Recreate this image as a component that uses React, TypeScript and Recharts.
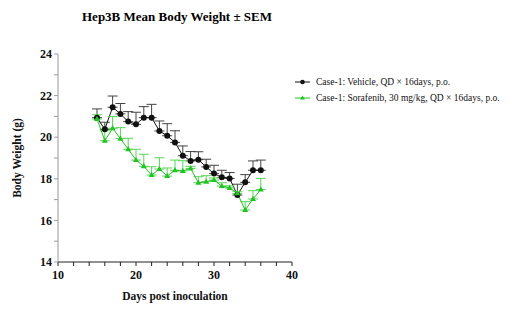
import React from "react";
import { ErrorBar, Line, LineChart, XAxis, YAxis } from "recharts";

// days post inoculation
const DAYS = [15, 16, 17, 18, 19, 20, 21, 22, 23, 24, 25, 26, 27, 28, 29, 30, 31, 32, 33, 34, 35, 36];

// Case-1: Vehicle
const VEHICLE = [20.94, 20.38, 21.44, 21.12, 20.75, 20.62, 20.94, 20.94, 20.3, 20.07, 19.75, 19.11, 18.86, 18.92, 18.57, 18.25, 18.07, 18.02, 17.22, 17.83, 18.41, 18.41];
const VEHICLE_SEM = [0.42, 0.34, 0.54, 0.5, 0.48, 0.58, 0.53, 0.64, 0.48, 0.58, 0.56, 0.47, 0.45, 0.38, 0.37, 0.4, 0.34, 0.28, 0.52, 0.37, 0.45, 0.49];

// Case-1: Sorafenib
const SORAFENIB = [20.88, 19.83, 20.43, 19.93, 19.42, 18.9, 18.6, 18.18, 18.47, 18.13, 18.41, 18.38, 18.5, 17.81, 17.86, 17.94, 17.65, 17.56, 17.3, 16.5, 17.03, 17.49];
const SORAFENIB_SEM = [0.2, 0.48, 0.56, 0.53, 0.53, 0.52, 0.58, 0.4, 0.54, 0.39, 0.49, 0.49, 0.1, 0.29, 0.29, 0.1, 0.16, 0.1, 0.1, 0.4, 0.4, 0.53];

const X_TICKS = [10, 12, 14, 16, 18, 20, 22, 24, 26, 28, 30, 32, 34, 36, 38, 40];
const X_LABELS = [10, 20, 30, 40];
const Y_TICKS = [14, 15, 16, 17, 18, 19, 20, 21, 22, 23, 24];
const Y_LABELS = [14, 16, 18, 20, 22, 24];

const SERIES = [
  { key: "vehicle", name: "Case-1: Vehicle, QD × 16days, p.o.", color: "#111111", errColor: "#444444", shape: "circle" },
  { key: "sorafenib", name: "Case-1: Sorafenib, 30 mg/kg, QD × 16days, p.o.", color: "#22c322", errColor: "#55d655", shape: "triangle" },
];

const data = DAYS.map((d, i) => ({
  day: d,
  vehicle: VEHICLE[i],
  vehicleErr: [0, VEHICLE_SEM[i]],
  sorafenib: SORAFENIB[i],
  sorafenibErr: [0, SORAFENIB_SEM[i]],
}));

const FONT = '"Liberation Serif", "Times New Roman", serif';

const Triangle = (props: any) => {
  const { cx, cy, fill } = props;
  if (cx == null || cy == null) return null;
  return <polygon points={`${cx},${cy - 3.2} ${cx - 3},${cy + 2} ${cx + 3},${cy + 2}`} fill={fill} />;
};

const Circle = (props: any) => {
  const { cx, cy, fill } = props;
  if (cx == null || cy == null) return null;
  return <circle cx={cx} cy={cy} r={3} fill={fill} />;
};

const LegendBox = () => (
  <div
    style={{
      position: "absolute",
      left: 293,
      top: 74,
      fontFamily: FONT,
      fontSize: 9.5,
      color: "#111",
      lineHeight: "16px",
    }}
  >
    {SERIES.map((s) => (
      <div key={s.key} style={{ display: "flex", alignItems: "center", whiteSpace: "nowrap" }}>
        <svg width={23} height={10}>
          <line x1={2} y1={5} x2={17} y2={5} stroke={s.color} strokeWidth={1} />
          {s.shape === "circle" ? (
            <circle cx={9.5} cy={5} r={2.3} fill={s.color} />
          ) : (
            <polygon points="9.5,2.4 7,6.6 12,6.6" fill={s.color} />
          )}
        </svg>
        <span>{s.name}</span>
      </div>
    ))}
  </div>
);

export default function App() {
  return (
    <div style={{ position: "absolute", left: 0, top: 0, width: 512, height: 327, background: "#fff" }}>
      <div
        style={{
          position: "absolute",
          left: 0,
          width: 354,
          top: 9,
          textAlign: "center",
          fontFamily: FONT,
          fontWeight: "bold",
          fontSize: 13,
        }}
      >
        Hep3B Mean Body Weight ± SEM
      </div>
      <LineChart width={512} height={327} data={data} margin={{ top: 54, right: 220, bottom: 35, left: 0 }}>
        <XAxis
          dataKey="day"
          type="number"
          domain={[10, 40]}
          ticks={X_TICKS}
          interval={0}
          tickFormatter={(v: number) => (X_LABELS.includes(v) ? String(v) : "")}
          tickSize={4}
          tickMargin={4}
          height={30}
          stroke="#222"
          tick={{ fill: "#111", fontFamily: FONT, fontWeight: "bold", fontSize: 12 }}
          label={{
            value: "Days post inoculation",
            position: "bottom",
            offset: 0,
            style: { fontFamily: FONT, fontWeight: "bold", fontSize: 11.5, fill: "#111" },
          }}
        />
        <YAxis
          type="number"
          domain={[14, 24]}
          ticks={Y_TICKS}
          interval={0}
          tickFormatter={(v: number) => (Y_LABELS.includes(v) ? String(v) : "")}
          tickSize={4}
          tickMargin={2}
          width={58}
          stroke="#9a9a9a"
          tick={{ fill: "#111", fontFamily: FONT, fontWeight: "bold", fontSize: 12 }}
          label={{
            value: "Body Weight (g)",
            angle: -90,
            position: "insideLeft",
            offset: 17,
            style: { textAnchor: "middle", fontFamily: FONT, fontWeight: "bold", fontSize: 11.5, fill: "#111" },
          }}
        />
        {SERIES.map((s) => (
          <Line
            key={s.key}
            dataKey={s.key}
            name={s.name}
            stroke={s.color}
            strokeWidth={1}
            isAnimationActive={false}
            dot={s.shape === "circle" ? <Circle fill={s.color} /> : <Triangle fill={s.color} />}
            activeDot={false}
          >
            <ErrorBar dataKey={`${s.key}Err`} direction="y" width={5} stroke={s.errColor} strokeWidth={1} isAnimationActive={false} />
          </Line>
        ))}
      </LineChart>
      <LegendBox />
    </div>
  );
}
